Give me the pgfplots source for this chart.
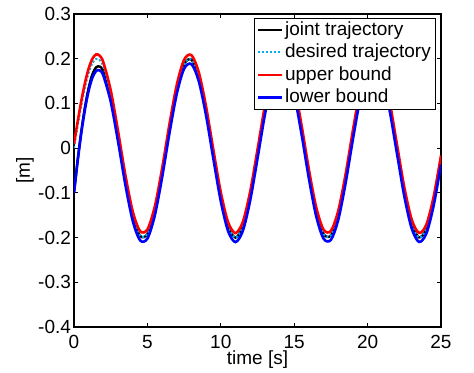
\documentclass[border=0pt]{standalone}
\usepackage{fontspec}
\setmainfont{Liberation Sans}
\usepackage{pgfplots}
\usepackage{pgfplotstable}
\pgfplotsset{compat=1.18}
\pgfplotstableread{
t d j u l
0 0.0000 -0.1000 0.0100 -0.1000
0.25 0.0495 -0.0263 0.0595 -0.0287
0.5 0.0959 0.0385 0.1059 0.0343
0.75 0.1363 0.0928 0.1463 0.0872
1 0.1683 0.1354 0.1783 0.1287
1.25 0.1898 0.1649 0.1998 0.1574
1.5 0.1995 0.1806 0.2095 0.1725
1.75 0.1968 0.1825 0.2068 0.1739
2 0.1819 0.1711 0.1919 0.1621
2.5 0.1197 0.1135 0.1297 0.1041
3 0.0282 0.0246 0.0382 0.0150
3.5 -0.0702 -0.0723 -0.0602 -0.0820
4 -0.1514 -0.1526 -0.1414 -0.1625
4.5 -0.1955 -0.1962 -0.1855 -0.2061
5 -0.1918 -0.1922 -0.1818 -0.2022
5.5 -0.1411 -0.1411 -0.1311 -0.1511
6 -0.0559 -0.0559 -0.0459 -0.0659
6.5 0.0430 0.0430 0.0530 0.0330
7 0.1314 0.1314 0.1414 0.1214
7.5 0.1876 0.1876 0.1976 0.1776
8 0.1979 0.1979 0.2079 0.1879
8.5 0.1597 0.1597 0.1697 0.1497
9 0.0824 0.0824 0.0924 0.0724
9.5 -0.0150 -0.0150 -0.0050 -0.0250
10 -0.1088 -0.1088 -0.0988 -0.1188
10.5 -0.1759 -0.1759 -0.1659 -0.1859
11 -0.2000 -0.2000 -0.1900 -0.2100
11.5 -0.1751 -0.1751 -0.1651 -0.1851
12 -0.1073 -0.1073 -0.0973 -0.1173
12.5 -0.0133 -0.0133 -0.0033 -0.0233
13 0.0840 0.0840 0.0940 0.0740
13.5 0.1608 0.1608 0.1708 0.1508
14 0.1981 0.1981 0.2081 0.1881
14.5 0.1870 0.1870 0.1970 0.1770
15 0.1301 0.1301 0.1401 0.1201
15.5 0.0413 0.0413 0.0513 0.0313
16 -0.0576 -0.0576 -0.0476 -0.0676
16.5 -0.1424 -0.1424 -0.1324 -0.1524
17 -0.1923 -0.1923 -0.1823 -0.2023
17.5 -0.1951 -0.1951 -0.1851 -0.2051
18 -0.1502 -0.1502 -0.1402 -0.1602
18.5 -0.0685 -0.0685 -0.0585 -0.0785
19 0.0300 0.0300 0.0400 0.0200
19.5 0.1211 0.1211 0.1311 0.1111
20 0.1826 0.1826 0.1926 0.1726
20.5 0.1994 0.1994 0.2094 0.1894
21 0.1673 0.1673 0.1773 0.1573
21.5 0.0943 0.0943 0.1043 0.0843
22 -0.0018 -0.0018 0.0082 -0.0118
22.5 -0.0974 -0.0974 -0.0874 -0.1074
23 -0.1692 -0.1692 -0.1592 -0.1792
23.5 -0.1996 -0.1996 -0.1896 -0.2096
24 -0.1811 -0.1811 -0.1711 -0.1911
24.5 -0.1183 -0.1183 -0.1083 -0.1283
25 -0.0265 -0.0265 -0.0165 -0.0365
}\data
\begin{document}
\fontsize{19bp}{22.8bp}\selectfont
\begin{tikzpicture}
\path[use as bounding box] (-74bp,-46bp) rectangle (400bp,327bp);
\begin{axis}[
  scale only axis,
  width=367bp, height=313bp,
  xmin=0, xmax=25, ymin=-0.4, ymax=0.3,
  xtick={0,5,10,15,20,25},
  xticklabels={0,5,10,15,20,25},
  ytick={-0.4,-0.3,-0.2,-0.1,0,0.1,0.2,0.3},
  yticklabels={-0.4,-0.3,-0.2,-0.1,0,0.1,0.2,0.3},
  tick align=inside,
  major tick length=4bp,
  every tick/.style={black, line width=0.8bp},
  axis line style={line width=1.2bp},
  yticklabel style={xshift=3.5bp},
  xticklabel style={yshift=-1.5bp},
  xlabel={time [s]},
  ylabel={[m]},
  xlabel style={at={(axis description cs:0.5,0)}, anchor=base, yshift=-37bp},
  ylabel style={at={(axis description cs:0,0.5)}, anchor=center, yshift=49bp},
  legend style={at={(1,1)}, anchor=north east, xshift=-6bp, yshift=-4bp,
    draw=black, fill=white, inner xsep=2bp, inner ysep=1.5bp,
    nodes={inner sep=2bp, text depth=0.15em}, row sep=1.8bp,
    cells={anchor=west}},
  legend image code/.code={\draw[#1] (0bp,0bp) -- (24bp,0bp);},
]
\addplot[black, line width=2.4bp, smooth] table[x=t, y=j] {\data};
\addlegendentry{joint trajectory}
\addplot[cyan, line width=2bp, dash pattern=on 2bp off 2bp, smooth] table[x=t, y=d] {\data};
\addlegendentry{desired trajectory}
\addplot[red, line width=2.6bp, smooth] table[x=t, y=u] {\data};
\addlegendentry{upper bound}
\addplot[blue, line width=2.6bp, smooth] table[x=t, y=l] {\data};
\addlegendentry{lower bound}
\end{axis}
\end{tikzpicture}
\end{document}
